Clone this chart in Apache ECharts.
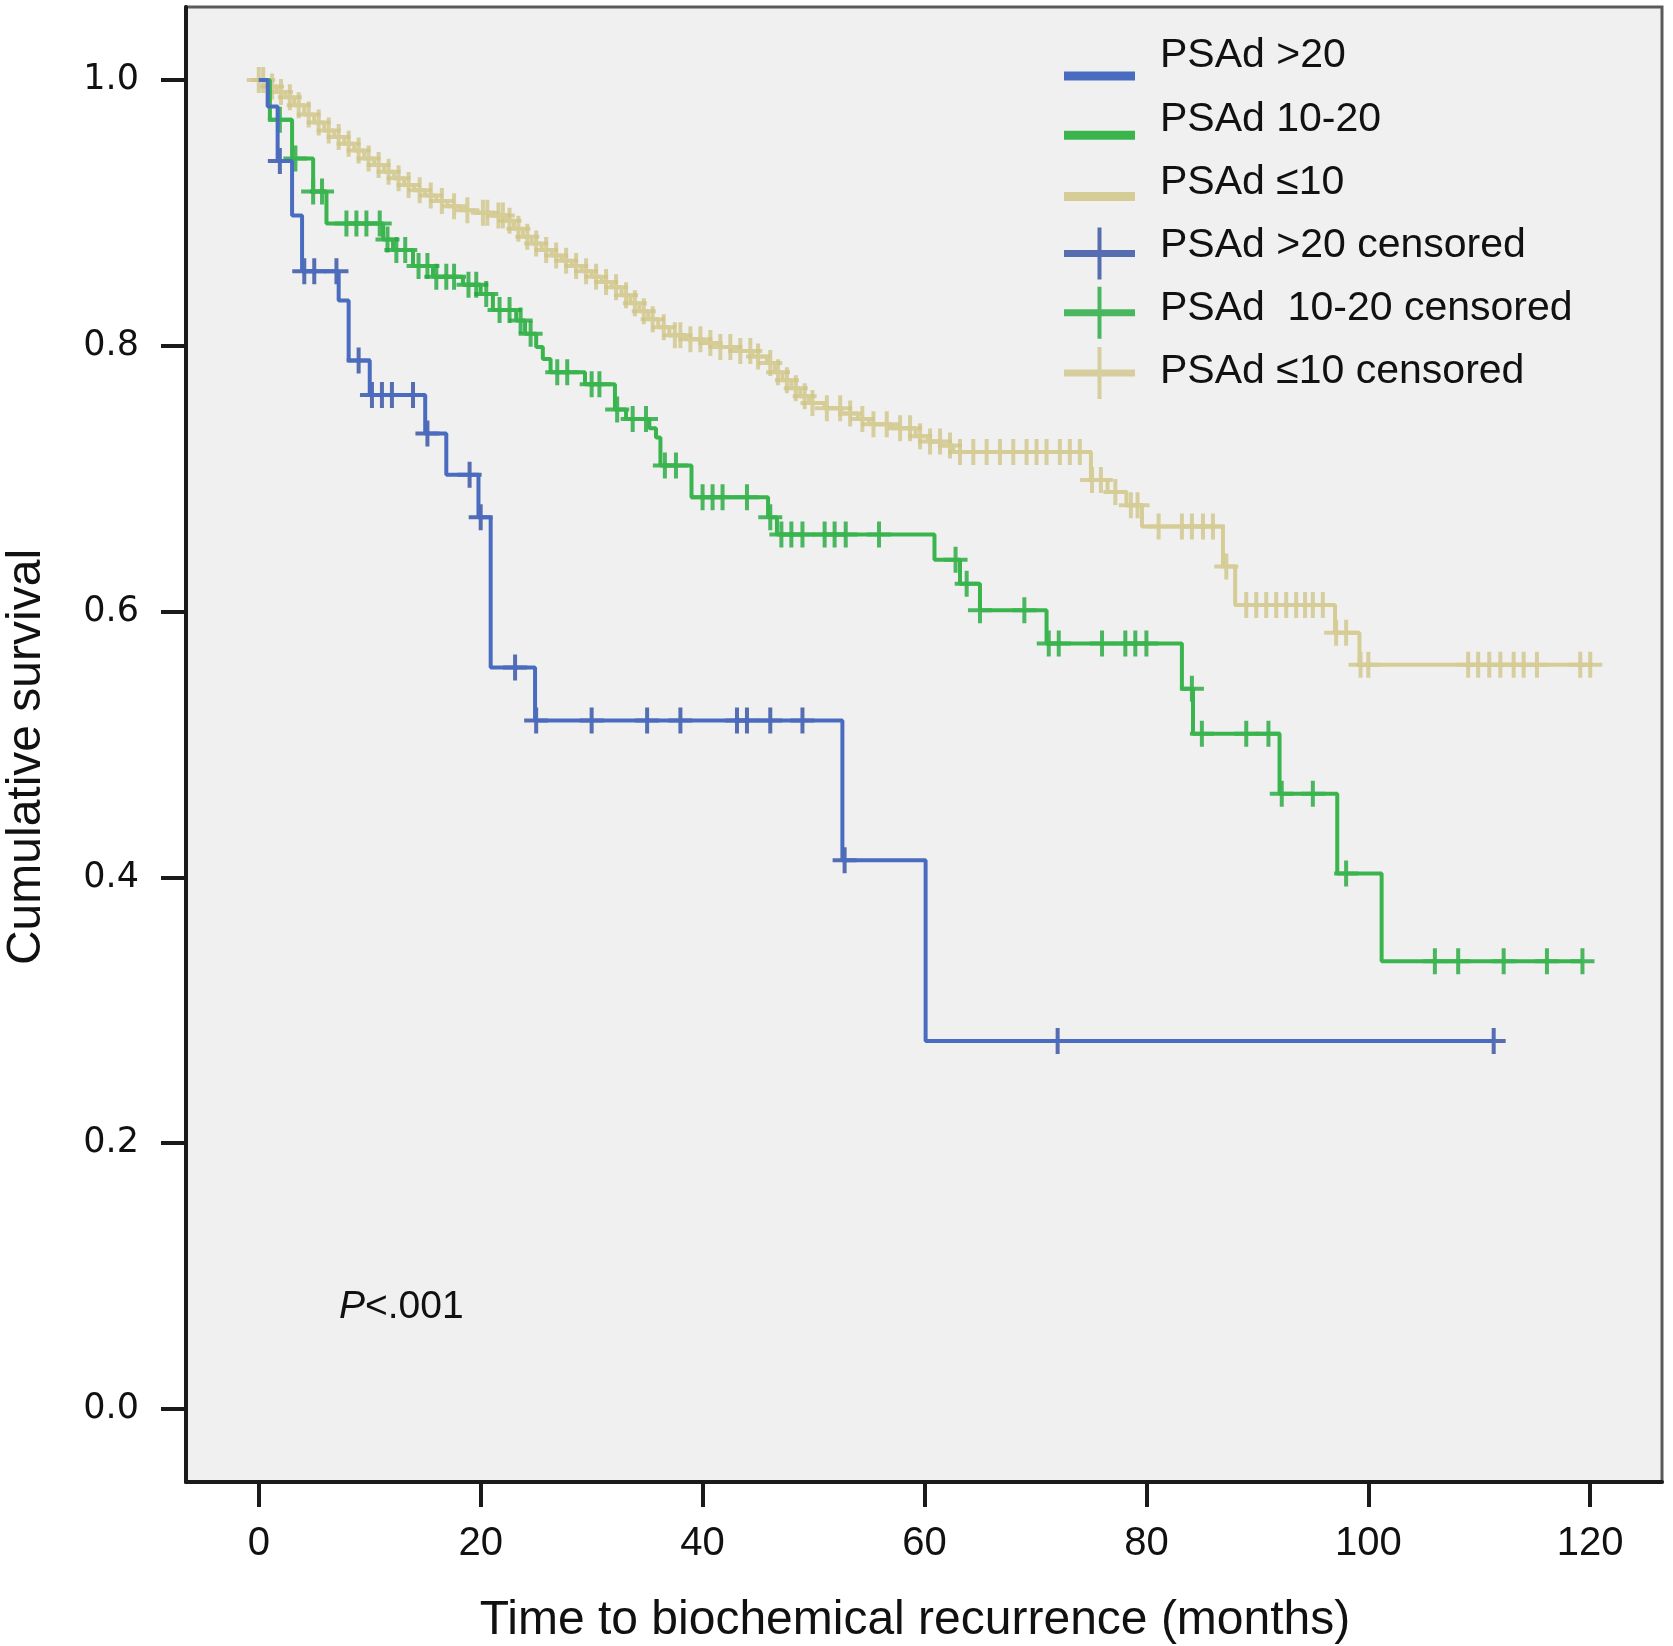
<!DOCTYPE html>
<html><head><meta charset="utf-8">
<script src="https://cdn.jsdelivr.net/npm/echarts@6/dist/echarts.min.js"></script>
<style>html,body{margin:0;padding:0;background:#fff}#c{width:1673px;height:1646px}</style>
</head><body><div id="c"></div>
<script>
// ---- axis ticks ----
const xTicks = [0, 20, 40, 60, 80, 100, 120];
const yTicks = [0, 0.2, 0.4, 0.6, 0.8, 1.0];

// ---- series names ----
const names = ['PSAd >20', 'PSAd 10-20', 'PSAd \u226410',
               'PSAd >20 censored', 'PSAd  10-20 censored', 'PSAd \u226410 censored'];

// ---- PSAd >20 (event times / survival after each step) ----
const blueT = [0, 0.8, 1.7, 3.0, 3.9, 7.2, 8.1, 10.0, 15.0, 16.9, 19.8, 20.9, 24.9, 52.6, 60.1];
const blueS = [1.0, 0.980, 0.939, 0.898, 0.856, 0.834, 0.789, 0.763, 0.734, 0.703, 0.671, 0.558, 0.518, 0.413, 0.277];
const blueEnd = 111.3;
const blueCens = [1.9, 4.1, 5.0, 7.0, 9.0, 10.2, 11.1, 12.0, 13.9, 15.2, 19.0, 20.0, 23.1, 25.0, 30.0, 35.0, 38.0,
                  43.1, 44.0, 46.1, 49.0, 52.8, 72.0, 111.3];

// ---- PSAd 10-20 ----
const greenT = [0, 1.0, 3.0, 4.9, 6.1, 11.2, 12.1, 13.9, 15.7, 18.4, 20.0, 21.1, 23.2, 24.0, 25.0, 25.6, 26.3,
                29.4, 32.1, 33.1, 35.2, 35.8, 36.2, 39.0, 45.9, 46.7, 60.9, 63.2, 65.0, 71.0, 83.2, 84.2, 92.0,
                97.2, 101.2];
const greenS = [1.0, 0.970, 0.941, 0.916, 0.892, 0.880, 0.872, 0.860, 0.852, 0.846, 0.839, 0.827, 0.819, 0.809,
                0.799, 0.790, 0.780, 0.771, 0.752, 0.745, 0.738, 0.731, 0.710, 0.686, 0.671, 0.658, 0.639, 0.621,
                0.601, 0.576, 0.542, 0.508, 0.463, 0.403, 0.337];
const greenEnd = 119.3;
const greenCens = [1.9, 3.3, 4.9, 5.7, 7.9, 8.8, 9.7, 10.9, 11.6, 12.4, 13.2, 14.4, 15.2, 16.0, 16.9, 17.6, 18.9,
                   19.6, 20.5, 21.7, 22.6, 23.6, 24.5, 26.9, 27.8, 30.0, 30.7, 32.3, 33.7, 34.9, 36.6, 37.6, 40.0,
                   40.9, 41.8, 44.0, 46.1, 47.1, 48.0, 49.0, 51.0, 51.9, 52.9, 55.9, 62.8, 63.8, 65.0, 69.0, 71.2,
                   72.1, 76.0, 78.1, 79.0, 80.0, 84.1, 85.0, 89.0, 91.0, 92.2, 95.0, 98.0, 106.0, 108.1, 112.2,
                   116.1, 119.3];

// ---- PSAd <=10 ----
const tanT = [0, 0.8, 1.6, 2.4, 3.2, 4.1, 5.0, 5.9, 6.8, 7.7, 8.6, 9.5, 10.4, 11.3, 12.2, 13.1, 14.0, 15.0, 16.0,
              17.0, 18.2, 19.5, 21.0, 22.3, 23.0, 23.8, 24.6, 25.5, 26.4, 27.3, 28.2, 29.1, 30.0, 30.9, 31.8, 32.7,
              33.5, 34.3, 35.1, 36.0, 37.0, 38.5, 40.0, 41.5, 43.0, 44.5, 45.8, 46.5, 47.2, 48.0, 48.8, 49.6, 51.0,
              52.5, 54.0, 55.0, 57.0, 59.2, 60.3, 61.5, 62.6, 75.0, 76.5, 78.2, 79.6, 86.9, 88.0, 97.0, 99.2];
const tanS = [1.000, 0.995, 0.991, 0.987, 0.981, 0.974, 0.968, 0.962, 0.957, 0.952, 0.947, 0.941, 0.936, 0.931,
              0.926, 0.921, 0.917, 0.913, 0.909, 0.905, 0.902, 0.900, 0.898, 0.894, 0.888, 0.882, 0.877, 0.872,
              0.868, 0.864, 0.860, 0.856, 0.852, 0.848, 0.844, 0.838, 0.832, 0.826, 0.820, 0.814, 0.808, 0.805,
              0.802, 0.799, 0.796, 0.792, 0.787, 0.780, 0.774, 0.768, 0.762, 0.757, 0.753, 0.749, 0.745, 0.741,
              0.738, 0.732, 0.728, 0.725, 0.720, 0.699, 0.690, 0.680, 0.664, 0.634, 0.605, 0.584, 0.560];
const tanEnd = 120.0;
const tanCens = [0, 0.4, 1.2, 2.0, 2.8, 3.6, 4.5, 5.4, 6.3, 7.2, 8.1, 9.0, 9.9, 10.8, 11.7, 12.6, 13.5, 14.5, 15.5,
                 16.5, 17.6, 18.8, 20.2, 20.6, 21.6, 22.0, 22.6, 23.4, 24.2, 25.0, 25.9, 26.8, 27.7, 28.6, 29.5,
                 30.4, 31.3, 32.2, 33.1, 33.9, 34.7, 35.5, 36.5, 37.5, 38.0, 38.9, 39.8, 40.7, 41.6, 42.5, 43.4,
                 44.3, 45.0, 46.1, 46.8, 47.6, 48.4, 49.2, 49.9, 51.2, 52.4, 53.3, 54.4, 55.4, 56.6, 57.8, 58.7,
                 59.6, 60.5, 61.4, 62.3, 63.2, 64.4, 65.6, 66.8, 68.0, 69.2, 70.1, 71.0, 72.2, 73.1, 74.0, 75.1,
                 75.9, 77.2, 78.6, 79.2, 81.1, 83.2, 84.1, 85.1, 86.0, 87.2, 89.0, 89.9, 90.8, 91.7, 92.6, 93.5,
                 94.3, 95.0, 95.9, 97.1, 98.0, 99.3, 100.0, 109.0, 109.9, 110.9, 111.9, 113.1, 114.0, 115.2,
                 119.1, 120.0];

// ---- helpers (build series data from the arrays) ----
function stepData(T, S, end) {
  const d = T.map((t, i) => [t, S[i]]);
  d.push([end, S[S.length - 1]]);
  return d;
}
function survAt(T, S, t) {
  let v = S[0];
  for (let i = 0; i < T.length; i++) { if (T[i] <= t) v = S[i]; }
  return v;
}
function censData(T, S, C) { return C.map(t => [t, survAt(T, S, t)]); }

const crossPath = 'path://M0,11H24V15H0Z M10,0H14V26H10Z';

const colors = {
  blueLine: '#4a6cc0', blueCross: '#2f4ca3',
  greenLine: '#3ab54e', greenCross: '#20a83c',
  tanLine: '#d5cd95', tanCross: '#cfc68a'
};

function lineSeries(name, T, S, end, color) {
  return {
    name: name, type: 'line', step: 'end', showSymbol: false, symbol: 'none',
    data: stepData(T, S, end), animation: false,
    lineStyle: { color: color, width: 4 }, itemStyle: { color: color },
    emphasis: { disabled: true }
  };
}
function censSeries(name, T, S, C, color) {
  return {
    name: name, type: 'scatter', symbol: crossPath, symbolSize: [24, 26],
    data: censData(T, S, C), animation: false,
    itemStyle: { color: color, borderWidth: 0 }, emphasis: { disabled: true }
  };
}

const legendIcons = [
  'path://M0,0M71,70M0,50.5H71V59.5H0Z',
  'path://M0,0M71,70M0,46.5H71V55.5H0Z',
  'path://M0,0M71,70M0,44.5H71V53.5H0Z',
  'path://M0,0M71,70M0,39.5H71V46.5H0Z M33.5,17H37.5V69H33.5Z',
  'path://M0,0M71,70M0,35.5H71V42.5H0Z M33.5,13H37.5V65H33.5Z',
  'path://M0,0M71,70M0,32.5H71V39.5H0Z M33.5,10H37.5V62H33.5Z'
];

const chart = echarts.init(document.getElementById('c'), null, { renderer: 'canvas' });
chart.setOption({
  animation: false,
  backgroundColor: '#ffffff',
  grid: {
    left: 186, top: 7, right: 11, bottom: 164,
    show: true, backgroundColor: '#f0f0f0', borderColor: '#5a5a5a', borderWidth: 3
  },
  xAxis: {
    type: 'value', min: -6.56, max: 126.47,
    splitLine: { show: false },
    axisLine: { onZero: false, lineStyle: { color: '#1a1a1a', width: 4 } },
    axisTick: { customValues: xTicks, length: 25, lineStyle: { color: '#1a1a1a', width: 4 } },
    axisLabel: { customValues: xTicks, fontFamily: 'Liberation Sans', fontSize: 40, color: '#111', margin: 42 }
  },
  yAxis: {
    type: 'value', min: -0.0549, max: 1.0549,
    splitLine: { show: false },
    axisLine: { onZero: false, lineStyle: { color: '#1a1a1a', width: 4 } },
    axisTick: { customValues: yTicks, length: 25, lineStyle: { color: '#1a1a1a', width: 4 } },
    axisLabel: { customValues: yTicks, formatter: v => v.toFixed(1), fontFamily: 'DejaVu Sans', fontSize: 35,
                 color: '#111', margin: 47 }
  },
  legend: {
    orient: 'vertical', left: 1059, top: 16,
    itemWidth: 71, itemHeight: 70, itemGap: -6.8,
    itemStyle: { borderWidth: 0 },
    textStyle: { fontFamily: 'Liberation Sans', fontSize: 41, color: '#111', padding: [0, 0, 0, 20] },
    data: names.map((n, i) => ({ name: n, icon: legendIcons[i] })),
    selectedMode: false
  },
  series: [
    lineSeries(names[2], tanT, tanS, tanEnd, colors.tanLine),
    censSeries(names[5], tanT, tanS, tanCens, colors.tanCross),
    lineSeries(names[1], greenT, greenS, greenEnd, colors.greenLine),
    censSeries(names[4], greenT, greenS, greenCens, colors.greenCross),
    lineSeries(names[0], blueT, blueS, blueEnd, colors.blueLine),
    censSeries(names[3], blueT, blueS, blueCens, colors.blueCross)
  ],
  graphic: [
    { type: 'text', x: 339, y: 1307,
      style: { text: '{i|P}<.001', fill: '#111', font: '39px "Liberation Sans"', align: 'left', verticalAlign: 'middle',
               rich: { i: { fontStyle: 'italic', fontSize: 39, fontFamily: 'Liberation Sans' } } } },
    { type: 'text', x: 915, y: 1621,
      style: { text: 'Time to biochemical recurrence (months)', fill: '#111', font: '48px "Liberation Sans"',
               align: 'center', verticalAlign: 'middle' } },
    { type: 'text', x: 27, y: 757, rotation: Math.PI / 2,
      style: { text: 'Cumulative survival', fill: '#111', font: '48px "Liberation Sans"',
               align: 'center', verticalAlign: 'middle' } }
  ]
});
</script>
</body></html>
